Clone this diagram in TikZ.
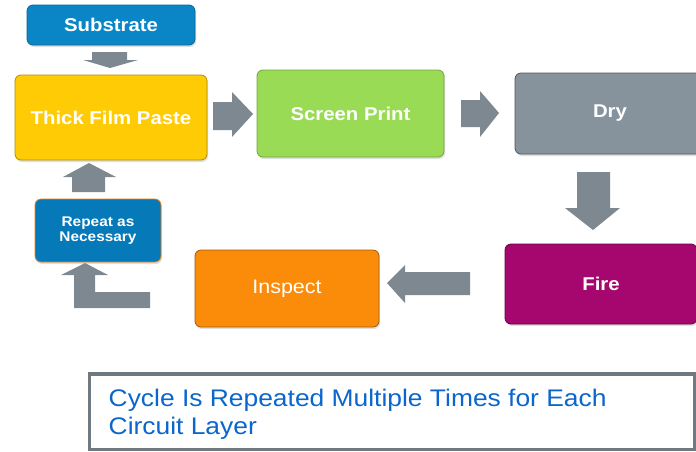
\documentclass[tikz,border=0pt]{standalone}
\usepackage{fontspec}
\setmainfont{Liberation Sans}
\newfontfamily\labfont[FakeStretch=1.1]{Liberation Sans}
\usetikzlibrary{shadows}
\definecolor{cSub}{HTML}{0A86C6}
\definecolor{cRep}{HTML}{0679B8}
\definecolor{cThick}{HTML}{FFCB05}
\definecolor{cScreen}{HTML}{9ADB55}
\definecolor{cDry}{HTML}{86939D}
\definecolor{cFire}{HTML}{A6076E}
\definecolor{cInsp}{HTML}{FA8C0A}
\definecolor{cArrow}{HTML}{7E8891}
\definecolor{cNote}{HTML}{0A66CC}
\definecolor{cFrame}{HTML}{707880}
\tikzset{
  procbox/.style={rounded corners=6pt, inner sep=0pt, line width=0.8pt,
    drop shadow={opacity=0.25, shadow xshift=1pt, shadow yshift=-2pt},
    text=white, font=\labfont\bfseries\fontsize{18.5}{21}\selectfont},
  blockarrow/.style={fill=cArrow, draw=none}
}
\begin{document}
\begin{tikzpicture}[x=1pt,y=-1pt]
\useasboundingbox (0,0) rectangle (696,451);
% boxes
\node[procbox, fill=cSub, draw=cSub!75!black, minimum width=168pt, minimum height=40pt] (sub) at (111,25) {Substrate};
\node[procbox, fill=cThick, draw=cThick!70!black, minimum width=192pt, minimum height=85pt] (thick) at (111,117.5) {Thick Film Paste};
\node[procbox, fill=cScreen, draw=cScreen!75!black, minimum width=187pt, minimum height=87pt] (screen) at (350.5,113.5) {Screen Print};
\node[procbox, fill=cDry, draw=cDry!60!black, minimum width=190pt, minimum height=81pt] (dry) at (610,113.5) {Dry};
\node[procbox, fill=cFire, draw=cFire!60!black, minimum width=192pt, minimum height=80pt] (fire) at (601,284) {Fire};
\node[procbox, fill=cInsp, draw=cInsp!65!black, minimum width=184pt, minimum height=77pt, font=\labfont\fontsize{19.5}{21}\selectfont] (insp) at (287,288.5) {Inspect};
\node[procbox, fill=cRep, draw=orange!70!brown, minimum width=126pt, minimum height=63pt, align=center, font=\labfont\bfseries\fontsize{14}{15.5}\selectfont] (rep) at (98,230.5) {Repeat as\\Necessary};
% block arrows
\fill[blockarrow] (92,52) -- (127,52) -- (127,60) -- (138,60) -- (110,68) -- (83,60) -- (92,60) -- cycle;
\fill[blockarrow] (213,102) -- (232,102) -- (232,92) -- (253,114) -- (232,137) -- (232,130) -- (213,130) -- cycle;
\fill[blockarrow] (461,100) -- (480,100) -- (480,91) -- (499,113) -- (480,137) -- (480,127) -- (461,127) -- cycle;
\fill[blockarrow] (577,172) -- (610,172) -- (610,208) -- (620,208) -- (593,230) -- (565,208) -- (577,208) -- cycle;
\fill[blockarrow] (470,272) -- (405,272) -- (405,265) -- (387,283) -- (405,303) -- (405,295) -- (470,295) -- cycle;
\fill[blockarrow] (74,308) -- (150,308) -- (150,292) -- (95,292) -- (95,275) -- (108,275) -- (85,263) -- (61,275) -- (74,275) -- cycle;
\fill[blockarrow] (72,192) -- (105,192) -- (105,177) -- (116,177) -- (89,163) -- (63,177) -- (72,177) -- cycle;
% note box
\draw[cFrame, line width=3.5pt] (89.5,374) rectangle (694.5,449.5);
\node[anchor=north west, inner sep=0pt, align=left, text=cNote, font=\labfont\fontsize{24}{28}\selectfont] (note) at (108.5,389) {Cycle Is Repeated Multiple Times for Each\\Circuit Layer};
\end{tikzpicture}
\end{document}
